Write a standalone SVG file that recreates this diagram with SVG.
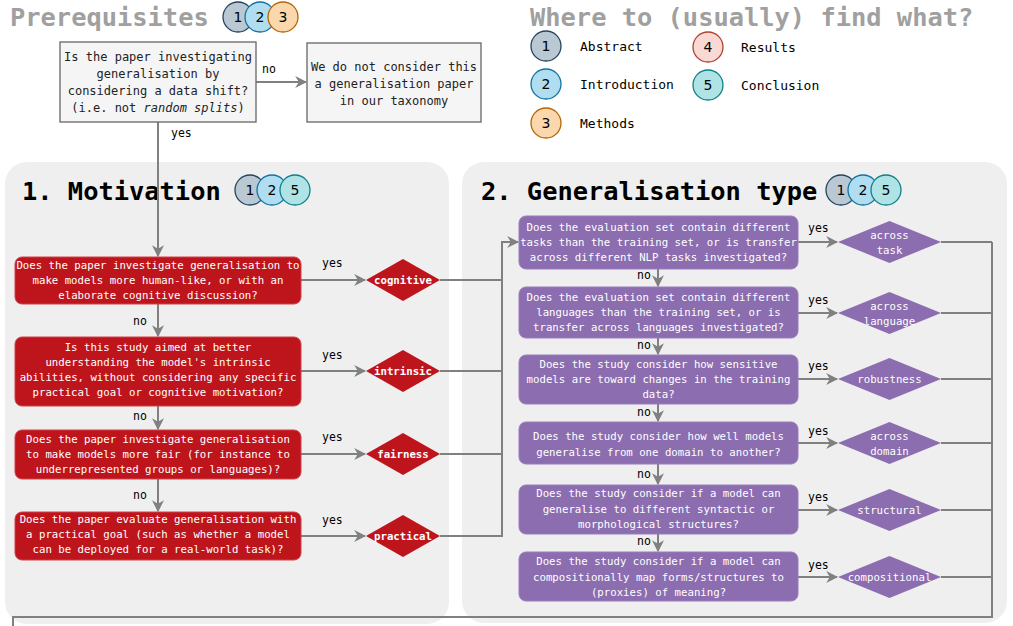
<svg xmlns="http://www.w3.org/2000/svg" width="1013" height="626" viewBox="0 0 1013 626">
<style>
.title{font-family:"DejaVu Sans Mono","Liberation Mono",monospace;font-size:25.4px;font-weight:bold}
.gt{fill:#a0a0a0}
.bt{fill:#000}
.t12{font-family:"DejaVu Sans Mono","Liberation Mono",monospace;font-size:12px;fill:#222}
.lg{font-family:"DejaVu Sans Mono","Liberation Mono",monospace;font-size:13px;fill:#000}
.w{font-family:"DejaVu Sans Mono","Liberation Mono",monospace;font-size:10.7px;fill:#fff;text-anchor:middle}
.dl{font-family:"DejaVu Sans Mono","Liberation Mono",monospace;font-size:10.7px;fill:#fff;text-anchor:middle;font-weight:bold}
.lab{font-family:"DejaVu Sans Mono","Liberation Mono",monospace;font-size:11.5px;fill:#000}
.num{font-family:"DejaVu Sans","Liberation Sans",sans-serif;font-size:14px;fill:#000;text-anchor:middle}
.panel{fill:#efefef}
.gbox{fill:#f5f5f5;stroke:#666;stroke-width:1.3}
.red{fill:#be151d;stroke:#d04048;stroke-width:1}
.pur{fill:#8b6db0;stroke:#9a7dbd;stroke-width:1}
.rd{fill:#be151d}
.pd{fill:#8b6db0}
.c1{fill:#bac8d3;stroke:#23445d;stroke-width:1.3}
.c2{fill:#b1ddf0;stroke:#10739e;stroke-width:1.3}
.c3{fill:#fad7ac;stroke:#b46504;stroke-width:1.3}
.c4{fill:#fad9d5;stroke:#ae4132;stroke-width:1.3}
.c5{fill:#b0e3e6;stroke:#0e8088;stroke-width:1.3}
.ln{fill:none;stroke:#808080;stroke-width:2}
.arr{marker-end:url(#ah)}
</style>
<defs>
<marker id="ah" viewBox="0 0 10 10" refX="9" refY="5" markerWidth="6" markerHeight="6" markerUnits="strokeWidth" orient="auto">
<path d="M0,0 L10,5 L0,10 L3,5 z" fill="#808080"/>
</marker>
</defs>

<rect x="0" y="0" width="1013" height="626" fill="#fff"/>

<g id="panel-motivation">
<rect class="panel" x="5" y="162" width="444" height="462" rx="22"/>
<text class="title bt" x="22" y="200">1. Motivation</text>
</g>
<g id="panel-gentype">
<rect class="panel" x="462" y="162" width="545" height="461" rx="22"/>
<text class="title bt" x="481" y="200">2. Generalisation type</text>
</g>

<g id="prereq-title">
<text class="title gt" x="10" y="26">Prerequisites</text>
<circle class="c1" cx="238" cy="17" r="15"/><text class="num" x="238" y="22">1</text>
<circle class="c2" cx="260" cy="17" r="15"/><text class="num" x="260" y="22">2</text>
<circle class="c3" cx="283" cy="17" r="15"/><text class="num" x="283" y="22">3</text>
</g>

<g id="legend">
<text class="title gt" x="530" y="26">Where to (usually) find what?</text>
<circle class="c1" cx="546" cy="46" r="15"/><text class="num" x="546" y="51">1</text>
<text class="lg" x="580" y="51">Abstract</text>
<circle class="c2" cx="546" cy="84" r="15"/><text class="num" x="546" y="89">2</text>
<text class="lg" x="580" y="89">Introduction</text>
<circle class="c3" cx="546" cy="123" r="15"/><text class="num" x="546" y="128">3</text>
<text class="lg" x="580" y="128">Methods</text>
<circle class="c4" cx="708" cy="47" r="15"/><text class="num" x="708" y="52">4</text>
<text class="lg" x="741" y="52">Results</text>
<circle class="c5" cx="708" cy="85" r="15"/><text class="num" x="708" y="90">5</text>
<text class="lg" x="741" y="90">Conclusion</text>
</g>

<g id="motivation-badges">
<circle class="c1" cx="250" cy="190" r="15"/><text class="num" x="250" y="195">1</text>
<circle class="c2" cx="272" cy="190" r="15"/><text class="num" x="272" y="195">2</text>
<circle class="c5" cx="295" cy="190" r="15"/><text class="num" x="295" y="195">5</text>
</g>
<g id="gentype-badges">
<circle class="c1" cx="841" cy="190" r="15"/><text class="num" x="841" y="195">1</text>
<circle class="c2" cx="863" cy="190" r="15"/><text class="num" x="863" y="195">2</text>
<circle class="c5" cx="886" cy="190" r="15"/><text class="num" x="886" y="195">5</text>
</g>

<g id="connectors">
<path class="ln arr" d="M256,82 L306,82"/>
<path class="ln arr" d="M158,122 L158,256"/>
<path class="ln arr" d="M158,304 L158,336"/>
<path class="ln arr" d="M158,406 L158,429"/>
<path class="ln arr" d="M158,479 L158,511"/>
<path class="ln arr" d="M301,280 L365,280"/>
<path class="ln arr" d="M301,371 L365,371"/>
<path class="ln arr" d="M301,454 L365,454"/>
<path class="ln arr" d="M301,536 L365,536"/>
<path class="ln" d="M440,280 L502,280 M440,371 L502,371 M440,454 L502,454"/>
<path class="ln arr" d="M440,536 L502,536 L502,242 L518,242"/>
<path class="ln arr" d="M658,269 L658,286"/>
<path class="ln arr" d="M658,338 L658,354"/>
<path class="ln arr" d="M658,404 L658,421"/>
<path class="ln arr" d="M658,464 L658,484"/>
<path class="ln arr" d="M658,534 L658,551"/>
<path class="ln arr" d="M798,242 L837,242"/>
<path class="ln arr" d="M798,313 L837,313"/>
<path class="ln arr" d="M798,379 L837,379"/>
<path class="ln arr" d="M798,443 L837,443"/>
<path class="ln arr" d="M798,510 L837,510"/>
<path class="ln arr" d="M798,577 L837,577"/>
<path class="ln" d="M941,242 L992,242 M941,313 L992,313 M941,379 L992,379 M941,443 L992,443 M941,510 L992,510 M941,577 L992,577"/>
<path class="ln" d="M992,242 L992,617 L13,617 L13,630"/>
<text class="lab" x="262" y="73">no</text>
<text class="lab" x="171" y="137">yes</text>
<text class="lab" x="322" y="267">yes</text>
<text class="lab" x="322" y="359">yes</text>
<text class="lab" x="322" y="441">yes</text>
<text class="lab" x="322" y="524">yes</text>
<text class="lab" x="133" y="325">no</text>
<text class="lab" x="133" y="420">no</text>
<text class="lab" x="133" y="499">no</text>
<text class="lab" x="808" y="232">yes</text>
<text class="lab" x="808" y="304">yes</text>
<text class="lab" x="808" y="370">yes</text>
<text class="lab" x="808" y="435">yes</text>
<text class="lab" x="808" y="501">yes</text>
<text class="lab" x="808" y="569">yes</text>
<text class="lab" x="637" y="279">no</text>
<text class="lab" x="637" y="349">no</text>
<text class="lab" x="637" y="416">no</text>
<text class="lab" x="637" y="478">no</text>
<text class="lab" x="637" y="545">no</text>
</g>

<g id="q-datashift">
<rect class="gbox" x="60" y="42" width="196" height="80"/>
<text class="t12" text-anchor="middle" x="158" y="61">Is the paper investigating</text>
<text class="t12" text-anchor="middle" x="158" y="78">generalisation by</text>
<text class="t12" text-anchor="middle" x="158" y="95">considering a data shift?</text>
<text class="t12" text-anchor="middle" x="158" y="112">(i.e. not <tspan font-style="italic">random splits</tspan>)</text>
</g>
<g id="not-considered">
<rect class="gbox" x="307" y="43" width="174" height="79"/>
<text class="t12" text-anchor="middle" x="394" y="71">We do not consider this</text>
<text class="t12" text-anchor="middle" x="394" y="88">a generalisation paper</text>
<text class="t12" text-anchor="middle" x="394" y="105">in our taxonomy</text>
</g>

<g id="q-cognitive">
<rect class="red" x="15" y="257" width="286" height="47" rx="7"/>
<text class="w" x="158" y="269">Does the paper investigate generalisation to</text>
<text class="w" x="158" y="284">make models more human-like, or with an</text>
<text class="w" x="158" y="299">elaborate cognitive discussion?</text>
</g>
<g id="q-intrinsic">
<rect class="red" x="15" y="337" width="286" height="69" rx="7"/>
<text class="w" x="158" y="351">Is this study aimed at better</text>
<text class="w" x="158" y="366">understanding the model's intrinsic</text>
<text class="w" x="158" y="381">abilities, without considering any specific</text>
<text class="w" x="158" y="396">practical goal or cognitive motivation?</text>
</g>
<g id="q-fairness">
<rect class="red" x="15" y="430" width="286" height="49" rx="7"/>
<text class="w" x="158" y="443">Does the paper investigate generalisation</text>
<text class="w" x="158" y="458">to make models more fair (for instance to</text>
<text class="w" x="158" y="473">underrepresented groups or languages)?</text>
</g>
<g id="q-practical">
<rect class="red" x="15" y="512" width="286" height="48" rx="7"/>
<text class="w" x="158" y="523">Does the paper evaluate generalisation with</text>
<text class="w" x="158" y="538">a practical goal (such as whether a model</text>
<text class="w" x="158" y="553">can be deployed for a real-world task)?</text>
</g>

<g id="d-cognitive"><polygon class="rd" points="366,280 403,259 440,280 403,301"/><text class="dl" x="403" y="284">cognitive</text></g>
<g id="d-intrinsic"><polygon class="rd" points="366,371 403,350 440,371 403,392"/><text class="dl" x="403" y="375">intrinsic</text></g>
<g id="d-fairness"><polygon class="rd" points="366,454 403,433 440,454 403,475"/><text class="dl" x="403" y="458">fairness</text></g>
<g id="d-practical"><polygon class="rd" points="366,536 403,515 440,536 403,557"/><text class="dl" x="403" y="540">practical</text></g>

<g id="q-task">
<rect class="pur" x="519" y="216" width="279" height="53" rx="7"/>
<text class="w" x="658.5" y="231">Does the evaluation set contain different</text>
<text class="w" x="658.5" y="246">tasks than the training set, or is transfer</text>
<text class="w" x="658.5" y="261">across different NLP tasks investigated?</text>
</g>
<g id="q-language">
<rect class="pur" x="519" y="287" width="279" height="51" rx="7"/>
<text class="w" x="658.5" y="301">Does the evaluation set contain different</text>
<text class="w" x="658.5" y="316">languages than the training set, or is</text>
<text class="w" x="658.5" y="331">transfer across languages investigated?</text>
</g>
<g id="q-robustness">
<rect class="pur" x="519" y="355" width="279" height="49" rx="7"/>
<text class="w" x="658.5" y="368">Does the study consider how sensitive</text>
<text class="w" x="658.5" y="383">models are toward changes in the training</text>
<text class="w" x="658.5" y="398">data?</text>
</g>
<g id="q-domain">
<rect class="pur" x="519" y="422" width="279" height="42" rx="7"/>
<text class="w" x="658.5" y="440">Does the study consider how well models</text>
<text class="w" x="658.5" y="456">generalise from one domain to another?</text>
</g>
<g id="q-structural">
<rect class="pur" x="519" y="485" width="279" height="49" rx="7"/>
<text class="w" x="658.5" y="497">Does the study consider if a model can</text>
<text class="w" x="658.5" y="513">generalise to different syntactic or</text>
<text class="w" x="658.5" y="528">morphological structures?</text>
</g>
<g id="q-compositional">
<rect class="pur" x="519" y="552" width="279" height="49" rx="7"/>
<text class="w" x="658.5" y="565">Does the study consider if a model can</text>
<text class="w" x="658.5" y="581">compositionally map forms/structures to</text>
<text class="w" x="658.5" y="596">(proxies) of meaning?</text>
</g>

<g id="d-task"><polygon class="pd" points="838,242 889.5,221 941,242 889.5,263"/><text class="w" x="889.5" y="239">across</text><text class="w" x="889.5" y="254">task</text></g>
<g id="d-language"><polygon class="pd" points="838,313 889.5,292 941,313 889.5,334"/><text class="w" x="889.5" y="310">across</text><text class="w" x="889.5" y="325">language</text></g>
<g id="d-robustness"><polygon class="pd" points="838,379 889.5,358 941,379 889.5,400"/><text class="w" x="889.5" y="383">robustness</text></g>
<g id="d-domain"><polygon class="pd" points="838,443 889.5,422 941,443 889.5,464"/><text class="w" x="889.5" y="440">across</text><text class="w" x="889.5" y="455">domain</text></g>
<g id="d-structural"><polygon class="pd" points="838,510 889.5,489 941,510 889.5,531"/><text class="w" x="889.5" y="514">structural</text></g>
<g id="d-compositional"><polygon class="pd" points="838,577 889.5,556 941,577 889.5,598"/><text class="w" x="889.5" y="581">compositional</text></g>
</svg>
